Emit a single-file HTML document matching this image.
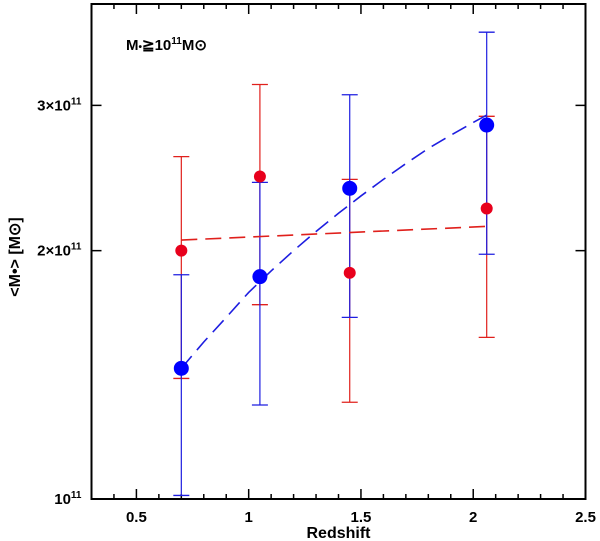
<!DOCTYPE html>
<html><head><meta charset="utf-8"><style>
body{margin:0;background:#fff}
svg{display:block}
text{font-family:"Liberation Sans",sans-serif;fill:#000;font-weight:bold}
</style></head><body>
<svg id="chart" width="600" height="541">
<g id="axes"></g><g id="marks"></g>
</svg>
<script>
const xTicksMajor=[0.5,1,1.5,2,2.5];
const xTickLabels=["0.5","1","1.5","2","2.5"];
const yTicks=[1e11,2e11,3e11];
const yTickLabels=[["","10","11"],["2×","10","11"],["3×","10","11"]];
const redX=[0.7,1.05,1.45,2.06];
const redY=[2.0e11,2.46e11,1.88e11,2.25e11];
const redHi=[2.60e11,3.18e11,2.44e11,2.91e11];
const redLo=[1.40e11,1.72e11,1.31e11,1.57e11];
const blueX=[0.7,1.05,1.45,2.06];
const blueY=[1.44e11,1.86e11,2.38e11,2.84e11];
const blueHi=[1.87e11,2.42e11,3.09e11,3.68e11];
const blueLo=[1.01e11,1.30e11,1.66e11,1.98e11];
const redFitX=[0.7,2.06];
const redFitY=[2.06e11,2.14e11];
const blueFitX=[0.7,0.8,0.9,1.0,1.1,1.2,1.3,1.4,1.5,1.6,1.7,1.8,1.9,2.0,2.06];
const blueFitY=[1.44e11,1.55e11,1.66e11,1.78e11,1.89e11,2.00e11,2.11e11,2.22e11,2.33e11,2.44e11,2.55e11,2.66e11,2.76e11,2.86e11,2.92e11];

const L=91.5,R=585.5,T=4,B=499;
const X=v=>L+(v-0.3)*(R-L)/2.2;
const Y=v=>B-(Math.log10(v)-11)*825;
const NS="http://www.w3.org/2000/svg";
function mk(tag,attrs,parent){const e=document.createElementNS(NS,tag);for(const k in attrs)e.setAttribute(k,attrs[k]);parent.appendChild(e);return e;}
const ax=document.getElementById('axes'),mg=document.getElementById('marks');
const frame=mk('rect',{x:L,y:T,width:R-L,height:B-T,fill:'none',stroke:'#000','stroke-width':2},ax);


for(let i=3;i<=25;i++){const v=i/10;const major=i%5===0;const len=major?10:5;
 const t1=mk('line',{x1:X(v),x2:X(v),y1:B,y2:B-len,stroke:'#000','stroke-width':1.5},ax);
 
 
 const t2=mk('line',{x1:X(v),x2:X(v),y1:T,y2:T+len,stroke:'#000','stroke-width':1.5},ax);
 
 }
xTicksMajor.forEach((v,i)=>{const t=mk('text',{x:X(v),y:522,'text-anchor':'middle','font-size':15},ax);t.textContent=xTickLabels[i];
 
 });
yTicks.forEach((v,i)=>{
 const a=mk('line',{x1:L,x2:L+10,y1:Y(v),y2:Y(v),stroke:'#000','stroke-width':1.5},ax);
 
 
 const b=mk('line',{x1:R,x2:R-10,y1:Y(v),y2:Y(v),stroke:'#000','stroke-width':1.5},ax);
 
 
 const t=mk('text',{x:L-10,y:Y(v)+5,'text-anchor':'end','font-size':15},ax);
 t.innerHTML=yTickLabels[i][0]+yTickLabels[i][1]+'<tspan font-size="10" dy="-6">'+yTickLabels[i][2]+'</tspan>';
 
 });
const xt=mk('text',{x:X(1.4),y:538,'text-anchor':'middle','font-size':16},ax);xt.textContent='Redshift';


const yt=mk('text',{x:0,y:0,'text-anchor':'middle','font-size':16,transform:'translate(20,257) rotate(-90)'},ax);
yt.textContent='<M\u2022> [M\u2299]';


const lab=mk('text',{x:126,y:50,'font-size':15,'font-family':'Liberation Serif,serif'},ax);
lab.innerHTML='M<tspan font-size="10">\u2022</tspan>\u226710<tspan font-size="10" dy="-6">11</tspan><tspan dy="6">M\u2299</tspan>';


function series(xs,ys,hi,lo,col,r,name){
 xs.forEach((x,i)=>{
  const g=mk('g',{},mg);
  
  
  mk('line',{x1:X(x),x2:X(x),y1:Y(hi[i]),y2:Y(lo[i]),stroke:col,'stroke-width':1.2},g);
  mk('line',{x1:X(x)-8,x2:X(x)+8,y1:Y(hi[i]),y2:Y(hi[i]),stroke:col,'stroke-width':1.3},g);
  mk('line',{x1:X(x)-8,x2:X(x)+8,y1:Y(lo[i]),y2:Y(lo[i]),stroke:col,'stroke-width':1.3},g);
 });
}
function pts(xs,ys,col,r,name){xs.forEach((x,i)=>{const c=mk('circle',{cx:X(x),cy:Y(ys[i]),r:r,fill:col},mg);
 
 });}
function fit(xs,ys,col,name){const p=mk('polyline',{points:xs.map((x,i)=>X(x)+','+Y(ys[i])).join(' '),fill:'none',stroke:col,'stroke-width':1.6,'stroke-dasharray':'16,8'},mg);
 
 }
series(redX,redY,redHi,redLo,'#e0201c',6,'red');
series(blueX,blueY,blueHi,blueLo,'#1e1ee0',7,'blue');
fit(redFitX,redFitY,'#e0201c','red-fit-line');
fit(blueFitX,blueFitY,'#1e1ee0','blue-fit-line');
pts(redX,redY,'#e8001c',6,'red');
pts(blueX,blueY,'#0000ff',7.5,'blue');
</script>
</body></html>
